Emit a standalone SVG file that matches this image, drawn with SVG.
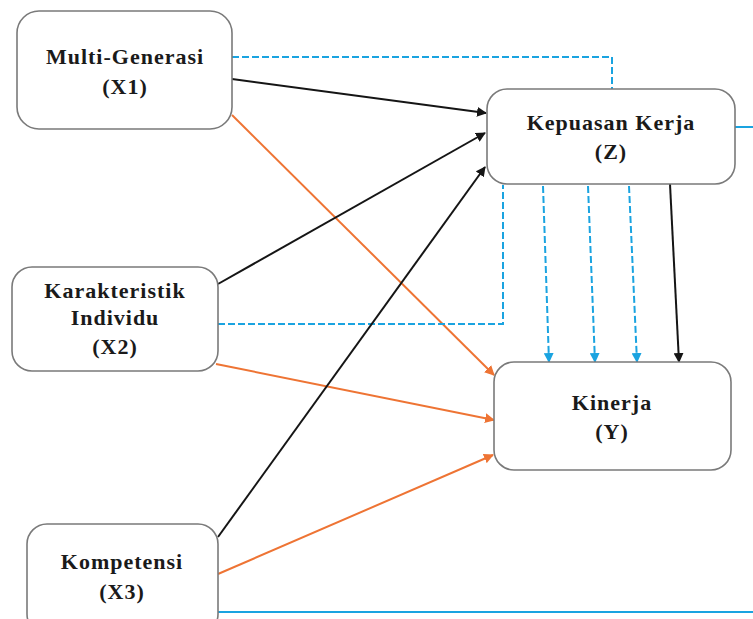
<svg xmlns="http://www.w3.org/2000/svg" width="753" height="619" viewBox="0 0 753 619">
<style>
.box{fill:#fff;stroke:#7a7a7a;stroke-width:1.6}
.t{font-family:"Liberation Serif","Times New Roman",serif;font-weight:bold;font-size:22px;letter-spacing:1px;fill:#1a1a1a;text-anchor:middle}
.blk{stroke:#151515;stroke-width:2;fill:none}
.org{stroke:#ee7434;stroke-width:2;fill:none}
.blu{stroke:#1aa3e0;stroke-width:2;fill:none;stroke-dasharray:7,3}
</style>
<defs>
<marker id="ab" viewBox="0 0 10 10" refX="9" refY="5" markerWidth="5" markerHeight="5" orient="auto"><path d="M0,0L10,5L0,10z" fill="#151515"/></marker>
<marker id="ao" viewBox="0 0 10 10" refX="9" refY="5" markerWidth="5" markerHeight="5" orient="auto"><path d="M0,0L10,5L0,10z" fill="#ee7434"/></marker>
<marker id="au" viewBox="0 0 10 10" refX="9" refY="5" markerWidth="5" markerHeight="5" orient="auto"><path d="M0,0L10,5L0,10z" fill="#1aa3e0"/></marker>
</defs>
<g id="connectors">
<path class="blu" d="M232,57H612V89"/>
<path class="blk" d="M232,79L486,113" marker-end="url(#ab)"/>
<path class="org" d="M232,115L494,375" marker-end="url(#ao)"/>
<path class="blk" d="M218,284L485,133" marker-end="url(#ab)"/>
<path class="org" d="M216,364L494,420" marker-end="url(#ao)"/>
<path class="blu" d="M218,324H503V185"/>
<path class="blk" d="M218,537L485,167" marker-end="url(#ab)"/>
<path class="org" d="M218,574L493,455" marker-end="url(#ao)"/>
<path class="blu" d="M218,612H753" style="stroke-dasharray:none"/>
<path class="blu" d="M218,612H753"/>
<path class="blu" d="M735,127H753" style="stroke-dasharray:none"/>
<path class="blu" d="M543,186L549,362" marker-end="url(#au)"/>
<path class="blu" d="M588,186L595,362" marker-end="url(#au)"/>
<path class="blu" d="M629,186L637,362" marker-end="url(#au)"/>
<path class="blk" d="M670,184L679,362" marker-end="url(#ab)"/>
</g>
<g id="X1">
<rect class="box" x="17" y="11" width="215" height="118" rx="22"/>
<text class="t" x="125" y="64">Multi-Generasi</text>
<text class="t" x="125" y="94">(X1)</text>
</g>
<g id="Z">
<rect class="box" x="487" y="89" width="248" height="95" rx="20"/>
<text class="t" x="611" y="130">Kepuasan Kerja</text>
<text class="t" x="611" y="159">(Z)</text>
</g>
<g id="X2">
<rect class="box" x="12" y="267" width="206" height="104" rx="20"/>
<text class="t" x="115" y="298">Karakteristik</text>
<text class="t" x="115" y="325">Individu</text>
<text class="t" x="115" y="354">(X2)</text>
</g>
<g id="Y">
<rect class="box" x="494" y="362" width="237" height="108" rx="20"/>
<text class="t" x="612" y="410">Kinerja</text>
<text class="t" x="612" y="439">(Y)</text>
</g>
<g id="X3">
<rect class="box" x="27" y="524" width="191" height="110" rx="20"/>
<text class="t" x="122" y="569">Kompetensi</text>
<text class="t" x="122" y="599">(X3)</text>
</g>
</svg>
